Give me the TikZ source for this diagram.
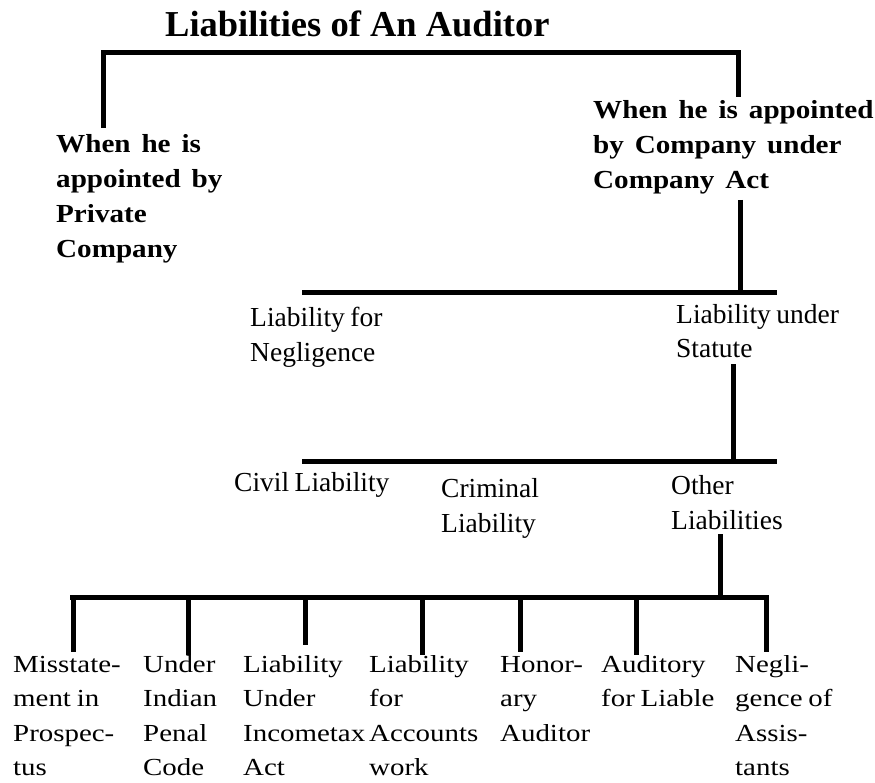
\documentclass[tikz,border=0pt]{standalone}
\usepackage{fontspec}
\setmainfont{Liberation Serif}[WordSpace=0.8]
\newfontfamily\titlefont{Liberation Serif}
\newfontfamily\widebold[FakeStretch=1.12,WordSpace=1.5]{Liberation Serif}
\newfontfamily\wideleaf[FakeStretch=1.18,WordSpace=0.8]{Liberation Serif}
\usetikzlibrary{calc}

\begin{document}
\begin{tikzpicture}[x=1pt,y=-1pt,
	bar/.style={line width=5pt},
	headlbl/.style={inner sep=0pt,anchor=base west,align=left,font=\titlefont\fontsize{36.5}{40}\selectfont\bfseries},
	caselbl/.style={inner sep=0pt,anchor=base west,align=left,font=\widebold\fontsize{26}{35}\selectfont\bfseries},
	kindlbl/.style={inner sep=0pt,anchor=base west,align=left,font=\fontsize{27.5}{35}\selectfont},
	leaflbl/.style={inner sep=0pt,anchor=base west,align=left,font=\wideleaf\fontsize{24.5}{34.5}\selectfont}]
	%%%%% FRAME %%%%%
	\useasboundingbox (0,0) rectangle (875,783);
	\def\ytop{53}
	\def\ytwo{293}
	\def\ythree{461}
	\def\yfour{597}
	\def\xleft{302}
	\def\xright{777}
	
	%%%%% LABELS (base = last line) %%%%%
	\node[headlbl] (title) at (165,37) {Liabilities of An Auditor};
	
	\node[caselbl] (priv) at (56,258) {When he is\\appointed by\\Private\\Company};
	\node[caselbl] (comp) at (593,189) {When he is appointed\\by Company under\\Company Act};
	
	\node[kindlbl] (negl) at (250,361) {Liability for\\Negligence};
	\node[kindlbl] (stat) at (676,358) {Liability under\\Statute};
	
	\node[kindlbl] (civil) at (234,491) {Civil Liability};
	\node[kindlbl] (crim) at (441,532) {Criminal\\Liability};
	\node[kindlbl] (other) at (671,529) {Other\\Liabilities};
	
	\node[leaflbl] (misst) at (13,775.5) {Misstate-\\ment in\\Prospec-\\tus};
	\node[leaflbl] (ipc) at (143,775.5) {Under\\Indian\\Penal\\Code};
	\node[leaflbl] (itax) at (243,775.5) {Liability\\Under\\Incometax\\Act};
	\node[leaflbl] (accts) at (369,775.5) {Liability\\for\\Accounts\\work};
	\node[leaflbl] (honor) at (500,741) {Honor-\\ary\\Auditor};
	\node[leaflbl] (liable) at (601,706.5) {Auditory\\for Liable};
	\node[leaflbl] (assist) at (735,775.5) {Negli-\\gence of\\Assis-\\tants};
	
	%%%%% BARS %%%%%
	\coordinate (privtop) at (103,128);
	\coordinate (comptop) at (738,97);
	\coordinate (compfoot) at (740,200);
	\coordinate (statfoot) at (733,364);
	\coordinate (otherfoot) at (720,534);
	
	\draw[bar] (privtop) -- (privtop |- 0,\ytop) -- (comptop |- 0,\ytop) -- (comptop);
	
	\draw[bar] (\xleft,\ytwo) -- (\xright,\ytwo);
	\draw[bar] (compfoot) -- (compfoot |- 0,\ytwo);
	
	\draw[bar] (\xleft,\ythree) -- (\xright,\ythree);
	\draw[bar] (statfoot) -- (statfoot |- 0,\ythree);
	
	\draw[bar] (70,\yfour) -- (769,\yfour);
	\draw[bar] (otherfoot) -- (otherfoot |- 0,\yfour);
	
	\draw[bar] (73,\yfour) -- (73,652);
	\draw[bar] (188,\yfour) -- (188,655);
	\draw[bar] (305,\yfour) -- (305,645);
	\draw[bar] (422,\yfour) -- (422,655);
	\draw[bar] (520,\yfour) -- (520,652);
	\draw[bar] (636,\yfour) -- (636,655);
	\draw[bar] (766.5,\yfour) -- (766.5,652);
	%%%%% END %%%%%
\end{tikzpicture}
\end{document}
